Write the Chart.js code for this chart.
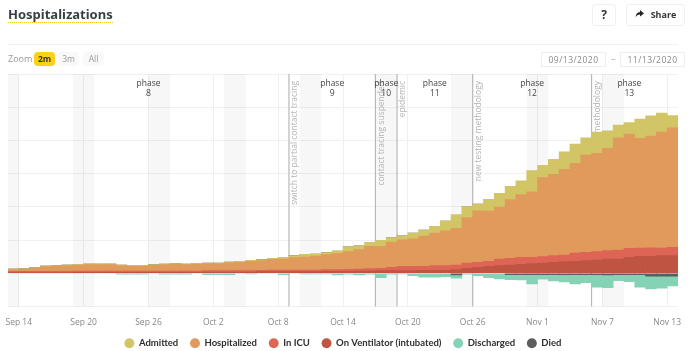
<!DOCTYPE HTML>
<html lang="en">
<head>
<meta charset="UTF-8">
<title>Hospitalizations</title>
<script src="https://cdnjs.cloudflare.com/ajax/libs/Chart.js/4.4.1/chart.umd.min.js"></script>
<style>
  html, body { margin: 0; padding: 0; background: #fff; width: 690px; height: 351px; overflow: hidden; font-family: "Open Sans", sans-serif; }
  #canvas { position: absolute; left: 0; top: 0; }
  .abs { position: absolute; white-space: nowrap; }
  #title { left: 8px; top: 5px; font: 700 13px/18px "Noto Sans", sans-serif; color: #3a3f45; border-bottom: 1px dotted #f5cf1f; height: 17px; }
  #rule { left: 8px; top: 44px; width: 670px; height: 1px; background: #f1f1f1; }
  .btn { top: 4px; height: 20px; border: 1px solid #f0f0f0; border-radius: 3px; font: 700 9px/20px "Open Sans", sans-serif; color: #333; text-align: center; box-sizing: content-box; }
  .zoomlbl { left: 8px; top: 52px; font-size: 9px; line-height: 14px; color: #999; }
  .pill { top: 52px; height: 14px; width: 21px; border-radius: 4px; font-size: 8.5px; line-height: 14px; text-align: center; color: #999; background: #f9f9f9; }
  .date { top: 52px; width: 63px; height: 13px; border: 1px solid #eee; font-size: 8.5px; line-height: 13px; letter-spacing: 0.5px; text-align: center; color: #888; }
</style>
</head>
<body>
<canvas id="canvas" width="690" height="351"></canvas>
<div class="abs" id="title">Hospitalizations</div>
<div class="abs btn" style="left:592px;width:22px;font-size:12px;">?</div>
<div class="abs btn" style="left:626px;width:57px;">
  <svg width="9" height="8" viewBox="0 0 9 8" style="margin-right:7px;"><path d="M5 0 L9 3.5 L5 6.5 L5 4.6 C3 4.6 1.5 5.4 0.5 7.5 C0.7 4.2 2.5 2.3 5 2 Z" fill="#222"/></svg>Share
</div>
<div class="abs" id="rule"></div>
<div class="abs zoomlbl">Zoom</div>
<div class="abs pill" style="left:34px;background:#fcd116;color:#333;font-weight:700;">2m</div>
<div class="abs pill" style="left:58px;">3m</div>
<div class="abs pill" style="left:83px;">All</div>
<div class="abs date" style="left:541px;">09/13/2020</div>
<div class="abs" style="left:611px;top:52px;font-size:9px;line-height:14px;color:#aaa;">–</div>
<div class="abs date" style="left:620px;">11/13/2020</div>

<script>
// daily values, Sep 13 .. Nov 13
var admitted = [2,2,2,2,2,2,2,2,2,2,2,2,2,2,2,2,2,2,2,2,2,3,3,3,3,5,6,8,6,6,8,15,12,12,18,13,12,17,18,20,29,42,33,20,36,42,40,41,64,37,45,53,58,52,64,53,38,35,58,61,57,37];
var hospitalized = [5,6,9,14,15,17,18,19,19,19,16,15,15,17,19,20,19,21,21,21,24,25,28,29,32,33,37,39,42,45,48,53,58,67,66,76,80,83,91,98,105,110,137,155,151,156,177,189,197,238,245,258,270,293,296,308,338,344,330,336,349,360];
var inIcu = [4,4,4,4,4,4,4,4,4,4,4,4,4,4,4,4,4,4,4,4,4,4,4,4,5,5,5,5,5,5,5,6,6,7,7,10,13,13,12,14,14,14,16,15,15,20,20,21,19,19,20,20,25,25,25,25,27,27,25,26,23,25];
var onVentilator = [2,2,2,2,2,2,3,3,3,3,3,3,3,3,3,3,3,3,4,4,4,4,4,5,5,5,5,5,5,6,6,6,7,7,8,8,8,8,9,9,9,11,15,18,21,23,25,27,29,31,33,35,36,38,40,43,43,48,51,51,53,53];
var discharged = [0,0,0,0,0,0,0,0,0,0,-3,-3,-3,0,-3,-3,-3,0,-4,-4,-4,0,-2,0,0,-4,0,-2,-2,-2,-5,-3,-5,-3,-13,-3,-2,-7,-12,-12,-10,-10,-3,-7,-13,-17,-15,-16,-28,-14,-19,-22,-28,-24,-38,-38,-18,-21,-38,-38,-36,-29];
var died = [0,0,0,0,0,0,0,0,0,0,0,0,0,0,0,0,0,0,0,0,0,0,0,0,0,0,0,0,0,0,0,0,0,0,0,0,0,0,0,0,0,-5,0,0,0,0,-4,-4,-4,-4,-4,-4,-4,-4,-4,-5,-4,-4,-4,-9,-9,-9];

// x axis: days since Sep 13
var tickDays = [1,7,13,19,25,31,37,43,49,55,61];
var tickLabels = ['Sep 14','Sep 20','Sep 26','Oct 2','Oct 8','Oct 14','Oct 20','Oct 26','Nov 1','Nov 7','Nov 13'];
var weekends = [[0,1],[6,8],[13,15],[20,22],[27,29],[34,36],[41,43],[48,50],[55,57]];
var eventDays = [26,34,36,43,54];
var eventLabels = ['switch to partial contact tracing','contact tracing suspended','epidemic','new testing methodology','methodology'];
var phaseBreaks = [0,26,34,36,43,54,61];
var phaseNames = ['8','9','10','11','12','13'];
var legendOrder = ['Admitted','Hospitalized','In ICU','On Ventilator (intubated)','Discharged','Died'];

function series(values) {
  return values.map(function(val, i) { return {x: i + 0.5, y: val}; });
}

// weekend bands, event lines and phase names, placed with the chart's x scale
var annotations = {
  id: 'annotations',
  beforeDatasetsDraw: function(chart) {
    var ctx = chart.ctx, xs = chart.scales.x, area = chart.chartArea;
    ctx.save();
    ctx.fillStyle = 'rgba(120,120,120,0.06)';
    weekends.forEach(function(w) {
      ctx.fillRect(xs.getPixelForValue(w[0]), area.top, xs.getPixelForValue(w[1]) - xs.getPixelForValue(w[0]), area.bottom - area.top);
    });
    ctx.strokeStyle = '#b8b8b8';
    ctx.lineWidth = 1.2;
    eventDays.forEach(function(d) {
      var px = xs.getPixelForValue(d);
      ctx.beginPath();
      ctx.moveTo(px, area.top);
      ctx.lineTo(px, area.bottom);
      ctx.stroke();
    });
    // rotated texts hang from the top of the plot
    ctx.fillStyle = '#b4b4b4';
    ctx.font = '8.5px "Open Sans"';
    ctx.textAlign = 'right';
    ctx.textBaseline = 'middle';
    eventDays.forEach(function(d, i) {
      ctx.save();
      ctx.translate(xs.getPixelForValue(d) + 6, area.top + 7);
      ctx.rotate(-Math.PI / 2);
      ctx.fillText(eventLabels[i], 0, 0);
      ctx.restore();
    });
    ctx.fillStyle = '#444';
    ctx.font = '8.5px "Open Sans"';
    ctx.textAlign = 'center';
    phaseNames.forEach(function(name, i) {
      var mid = (xs.getPixelForValue(phaseBreaks[i]) + xs.getPixelForValue(phaseBreaks[i + 1])) / 2;
      ctx.fillText('phase', mid, area.top + 9.5);
      ctx.fillText(name, mid, area.top + 20);
    });
    ctx.restore();
  }
};

var datasets = [
  {label: 'On Ventilator (intubated)', data: series(onVentilator), backgroundColor: '#bf5443'},
  {label: 'In ICU', data: series(inIcu), backgroundColor: '#de6556'},
  {label: 'Hospitalized', data: series(hospitalized), backgroundColor: '#e09a5b'},
  {label: 'Admitted', data: series(admitted), backgroundColor: '#d2c566'},
  {label: 'Died', data: series(died), backgroundColor: '#5d5d5d'},
  {label: 'Discharged', data: series(discharged), backgroundColor: '#85d3b5'}
];
datasets.forEach(function(d) {
  d.stack = 'all';
  d.barPercentage = 1;
  d.categoryPercentage = 1;
  d.borderWidth = 0;
});

new Chart(document.getElementById('canvas').getContext('2d'), {
  type: 'bar',
  data: {datasets: datasets},
  plugins: [annotations],
  options: {
    responsive: false,
    animation: false,
    layout: {padding: {left: 8, right: 12, top: 74, bottom: -7}},
    plugins: {
      tooltip: {enabled: false},
      legend: {
        position: 'bottom',
        labels: {
          usePointStyle: true,
          pointStyle: 'circle',
          boxHeight: 7,
          padding: 12,
          color: '#2f2f2f',
          font: {family: 'Lato', size: 9.5, weight: 'bold'},
          sort: function(a, b) { return legendOrder.indexOf(a.text) - legendOrder.indexOf(b.text); }
        }
      }
    },
    scales: {
      x: {
        type: 'linear',
        min: 0,
        max: 62,
        offset: false,
        stacked: true,
        afterBuildTicks: function(scale) {
          scale.ticks = tickDays.map(function(d) { return {value: d}; });
        },
        afterFit: function(scale) {
          scale.paddingLeft = 0;
          scale.paddingRight = 0;
          scale.height = 20;
        },
        grid: {color: '#efefef', drawTicks: false, offset: false},
        border: {display: false},
        ticks: {
          autoSkip: false,
          maxRotation: 0,
          padding: 11,
          color: '#888',
          font: {family: 'Open Sans', size: 8.5},
          callback: function(val) { return tickLabels[tickDays.indexOf(val)]; }
        }
      },
      y: {
        min: -100,
        max: 600,
        stacked: true,
        afterFit: function(scale) { scale.width = 0; },
        grid: {color: '#f0f0f0', drawTicks: false},
        border: {display: false},
        ticks: {display: false, stepSize: 100}
      }
    }
  }
});
</script>
</body>
</html>
